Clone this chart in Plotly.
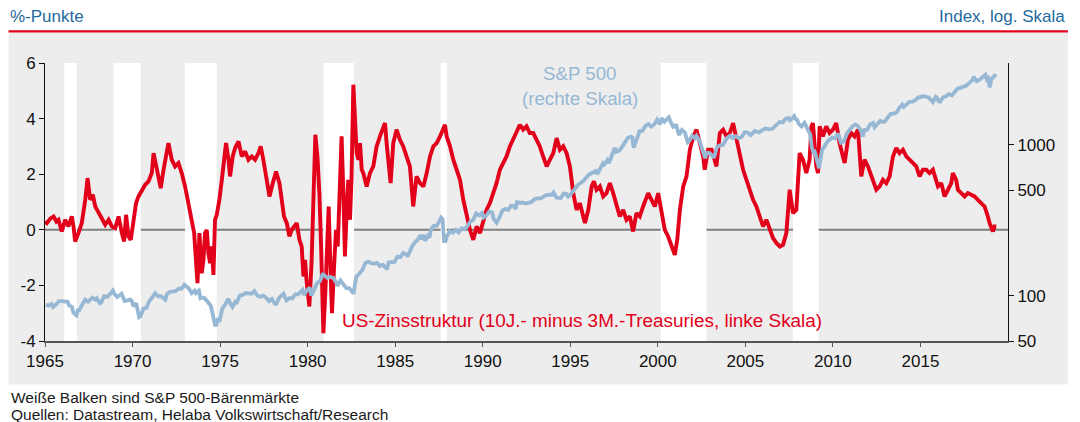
import plotly.graph_objects as go

# ---------------- data ----------------
# US yield curve: 10y minus 3m Treasuries (percentage points), left axis
spread_year = [
    1965.01, 1965.11, 1965.30, 1965.49, 1965.65, 1965.77, 1965.96, 1966.15, 1966.34, 1966.53,
    1966.63, 1966.72, 1966.91, 1967.10, 1967.30, 1967.43, 1967.58, 1967.73, 1967.87, 1968.06,
    1968.25, 1968.44, 1968.63, 1968.82, 1969.01, 1969.20, 1969.39, 1969.52, 1969.63, 1969.77,
    1969.90, 1970.05, 1970.20, 1970.34, 1970.53, 1970.72, 1970.91, 1971.10, 1971.20, 1971.35,
    1971.48, 1971.61, 1971.77, 1972.05, 1972.24, 1972.43, 1972.62, 1972.81, 1973.00, 1973.19,
    1973.38, 1973.52, 1973.63, 1973.71, 1973.82, 1973.95, 1974.05, 1974.14, 1974.24, 1974.33,
    1974.43, 1974.52, 1974.62, 1974.71, 1974.81, 1974.96, 1975.10, 1975.23, 1975.34, 1975.48,
    1975.57, 1975.72, 1975.86, 1976.05, 1976.24, 1976.43, 1976.62, 1976.81, 1977.00, 1977.19,
    1977.32, 1977.47, 1977.66, 1977.82, 1978.01, 1978.20, 1978.39, 1978.52, 1978.65, 1978.81,
    1978.96, 1979.09, 1979.28, 1979.38, 1979.53, 1979.66, 1979.76, 1979.85, 1979.95, 1980.10,
    1980.23, 1980.33, 1980.44, 1980.56, 1980.67, 1980.77, 1980.90, 1981.01, 1981.09, 1981.20,
    1981.32, 1981.39, 1981.51, 1981.62, 1981.72, 1981.94, 1982.04, 1982.13, 1982.23, 1982.32,
    1982.42, 1982.51, 1982.61, 1982.71, 1982.80, 1982.90, 1982.99, 1983.09, 1983.18, 1983.37,
    1983.56, 1983.75, 1983.94, 1984.13, 1984.32, 1984.42, 1984.51, 1984.61, 1984.74, 1984.89,
    1985.08, 1985.27, 1985.46, 1985.65, 1985.84, 1986.03, 1986.13, 1986.22, 1986.42, 1986.61,
    1986.80, 1986.99, 1987.18, 1987.37, 1987.56, 1987.84, 1987.94, 1988.13, 1988.32, 1988.51,
    1988.70, 1988.89, 1989.08, 1989.27, 1989.46, 1989.65, 1989.84, 1990.03, 1990.22, 1990.41,
    1990.60, 1990.79, 1990.98, 1991.17, 1991.36, 1991.55, 1991.74, 1991.93, 1992.12, 1992.31,
    1992.50, 1992.69, 1992.88, 1993.07, 1993.26, 1993.45, 1993.65, 1993.84, 1994.03, 1994.22,
    1994.41, 1994.60, 1994.79, 1994.98, 1995.07, 1995.17, 1995.36, 1995.55, 1995.74, 1995.84,
    1996.03, 1996.22, 1996.35, 1996.50, 1996.69, 1996.88, 1997.07, 1997.26, 1997.45, 1997.64,
    1997.83, 1998.02, 1998.21, 1998.40, 1998.59, 1998.78, 1998.97, 1999.16, 1999.35, 1999.45,
    1999.64, 1999.83, 2000.02, 2000.21, 2000.40, 2000.59, 2000.78, 2000.97, 2001.11, 2001.26,
    2001.45, 2001.64, 2001.83, 2002.02, 2002.21, 2002.40, 2002.59, 2002.68, 2002.87, 2003.07,
    2003.26, 2003.35, 2003.54, 2003.73, 2003.92, 2004.11, 2004.30, 2004.49, 2004.68, 2004.87,
    2005.06, 2005.25, 2005.44, 2005.63, 2005.82, 2006.01, 2006.20, 2006.39, 2006.58, 2006.78,
    2006.97, 2007.15, 2007.34, 2007.53, 2007.72, 2007.91, 2008.01, 2008.10, 2008.29, 2008.48,
    2008.67, 2008.77, 2008.86, 2009.05, 2009.15, 2009.24, 2009.43, 2009.62, 2009.81, 2010.00,
    2010.19, 2010.38, 2010.57, 2010.67, 2010.86, 2011.05, 2011.24, 2011.43, 2011.62, 2011.81,
    2012.00, 2012.19, 2012.48, 2012.67, 2012.86, 2013.05, 2013.24, 2013.43, 2013.62, 2013.81,
    2014.00, 2014.19, 2014.38, 2014.57, 2014.76, 2014.95, 2015.14, 2015.33, 2015.52, 2015.71,
    2015.90, 2016.00, 2016.19, 2016.38, 2016.57, 2016.76, 2016.85, 2017.04, 2017.14, 2017.33,
    2017.52, 2017.71, 2017.90, 2018.09, 2018.28, 2018.47, 2018.66, 2018.85, 2018.95, 2019.14,
    2019.23, 2019.33,
]
spread_value = [
    0.30, 0.24, 0.40, 0.48, 0.30, 0.36, -0.06, 0.36, 0.12, 0.48,
    0.12, -0.42, -0.12, 0.24, 1.08, 1.86, 1.08, 1.26, 0.84, 0.60,
    0.42, 0.18, 0.36, 0.12, 0.06, 0.48, -0.12, -0.42, 0.54, -0.24,
    -0.36, 0.36, 0.96, 1.20, 1.44, 1.62, 1.74, 2.04, 2.76, 2.28,
    1.80, 1.50, 2.16, 3.12, 2.52, 2.28, 2.40, 2.04, 1.56, 0.96,
    0.48, -0.12, -1.20, -1.92, -0.12, -1.56, -1.08, -0.12, 0.00, -0.84,
    -1.20, -0.60, -1.62, 0.36, 0.54, 1.08, 1.80, 2.64, 3.12, 2.52,
    1.92, 2.64, 2.94, 3.18, 2.64, 2.82, 2.52, 2.64, 2.52, 2.76,
    3.00, 2.52, 1.80, 1.20, 1.68, 2.10, 1.68, 1.08, 0.48, 0.24,
    -0.24, 0.00, 0.18, 0.24, -0.36, -0.60, -1.68, -1.08, -1.92, -2.76,
    -1.08, 1.32, 3.42, 2.64, 1.32, -0.60, -3.72, -2.28, -0.60, 0.84,
    -1.68, -3.00, -1.32, 0.00, -0.60, 3.36, 1.32, -0.96, 0.72, 1.80,
    0.36, 1.92, 5.22, 3.72, 2.76, 2.52, 3.12, 2.16, 2.04, 1.56,
    2.04, 2.28, 3.00, 3.36, 3.72, 3.84, 3.12, 2.52, 1.68, 3.12,
    3.60, 3.24, 3.00, 2.64, 2.28, 0.84, 1.32, 1.92, 1.68, 1.56,
    2.04, 2.64, 3.00, 3.12, 3.36, 3.78, 3.36, 3.00, 2.52, 2.16,
    1.80, 1.08, 0.48, 0.00, -0.36, 0.12, -0.12, 0.36, 0.72, 0.96,
    1.32, 1.68, 2.16, 2.40, 2.64, 3.00, 3.24, 3.50, 3.78, 3.60,
    3.72, 3.48, 3.48, 3.24, 3.00, 2.64, 2.28, 2.52, 2.76, 3.30,
    2.88, 3.00, 2.76, 2.28, 1.80, 1.32, 0.72, 0.96, 0.48, 0.24,
    0.72, 1.56, 1.74, 1.44, 1.56, 1.20, 1.32, 1.68, 1.32, 0.84,
    0.48, 0.72, 0.36, 0.48, -0.06, 0.60, 0.48, 0.84, 1.20, 1.32,
    1.08, 0.84, 1.32, 0.60, 0.00, -0.24, -0.60, -0.90, -0.36, 0.72,
    1.56, 1.92, 2.88, 3.36, 3.60, 3.12, 2.64, 2.16, 2.88, 2.88,
    2.52, 2.28, 3.48, 3.60, 3.36, 3.48, 3.84, 3.24, 2.64, 2.16,
    1.80, 1.44, 1.08, 0.84, 0.48, 0.12, 0.36, 0.00, -0.30, -0.48,
    -0.60, -0.54, -0.12, 1.44, 0.60, 0.72, 2.16, 2.76, 2.52, 2.04,
    2.52, 3.72, 3.84, 2.28, 2.04, 3.72, 3.36, 3.72, 3.48, 3.60,
    3.84, 3.12, 2.64, 2.40, 3.24, 3.48, 3.36, 3.60, 1.92, 2.52,
    2.28, 1.92, 1.44, 1.56, 1.80, 1.68, 1.92, 2.64, 2.94, 2.76,
    2.88, 2.64, 2.52, 2.40, 2.28, 1.92, 2.16, 2.16, 2.04, 2.16,
    1.80, 1.56, 1.68, 1.20, 1.44, 1.68, 2.04, 1.80, 1.44, 1.32,
    1.20, 1.32, 1.26, 1.20, 1.08, 0.96, 0.84, 0.48, 0.24, -0.06,
    0.12, 0.12,
]

# S&P 500 index level (right axis, log scale)
sp500_month = [
    "1965-01", "1965-03", "1965-05", "1965-06", "1965-08", "1965-10", "1965-12",
    "1966-02", "1966-04", "1966-05", "1966-07", "1966-08", "1966-10", "1966-11", "1966-12",
    "1967-02", "1967-04", "1967-06", "1967-09", "1967-11", "1967-12",
    "1968-02", "1968-03", "1968-05", "1968-07", "1968-09", "1968-11", "1968-12",
    "1969-02", "1969-05", "1969-07", "1969-09", "1969-11", "1969-12",
    "1970-01", "1970-03", "1970-05", "1970-06", "1970-08", "1970-10", "1970-12",
    "1971-02", "1971-04", "1971-06", "1971-08", "1971-11", "1971-12",
    "1972-02", "1972-04", "1972-06", "1972-08", "1972-10", "1972-12",
    "1973-01", "1973-03", "1973-05", "1973-07", "1973-08", "1973-10", "1973-11", "1973-12",
    "1974-02", "1974-04", "1974-06", "1974-07", "1974-08", "1974-09", "1974-10", "1974-11", "1974-12",
    "1975-02", "1975-04", "1975-06", "1975-08", "1975-09", "1975-11", "1975-12",
    "1976-02", "1976-04", "1976-06", "1976-08", "1976-10", "1976-12",
    "1977-02", "1977-04", "1977-06", "1977-08", "1977-10", "1977-12",
    "1978-02", "1978-03", "1978-05", "1978-08", "1978-10", "1978-12",
    "1979-02", "1979-04", "1979-06", "1979-09", "1979-10", "1979-12",
    "1980-02", "1980-03", "1980-05", "1980-07", "1980-09", "1980-11", "1980-12",
    "1981-02", "1981-04", "1981-06", "1981-08", "1981-09", "1981-11", "1981-12",
    "1982-02", "1982-03", "1982-05", "1982-07", "1982-08", "1982-09", "1982-10", "1982-12",
    "1983-02", "1983-04", "1983-06", "1983-08", "1983-10", "1983-12",
    "1984-02", "1984-04", "1984-06", "1984-07", "1984-08", "1984-10", "1984-12",
    "1985-02", "1985-04", "1985-06", "1985-08", "1985-09", "1985-11", "1985-12",
    "1986-02", "1986-04", "1986-06", "1986-07", "1986-08", "1986-09", "1986-11", "1986-12",
    "1987-01", "1987-03", "1987-05", "1987-07", "1987-08", "1987-09", "1987-10", "1987-11", "1987-12",
    "1988-02", "1988-04", "1988-06", "1988-08", "1988-10", "1988-12",
    "1989-02", "1989-04", "1989-06", "1989-08", "1989-10", "1989-12",
    "1990-01", "1990-03", "1990-05", "1990-07", "1990-08", "1990-10", "1990-12",
    "1991-02", "1991-04", "1991-06", "1991-08", "1991-10", "1991-11", "1991-12",
    "1992-02", "1992-04", "1992-06", "1992-08", "1992-10", "1992-12",
    "1993-02", "1993-04", "1993-06", "1993-08", "1993-10", "1993-12",
    "1994-01", "1994-03", "1994-06", "1994-08", "1994-10", "1994-11", "1994-12",
    "1995-02", "1995-04", "1995-06", "1995-08", "1995-10", "1995-12",
    "1996-02", "1996-04", "1996-06", "1996-07", "1996-09", "1996-11", "1996-12",
    "1997-02", "1997-03", "1997-05", "1997-07", "1997-08", "1997-10", "1997-12",
    "1998-02", "1998-04", "1998-06", "1998-07", "1998-08", "1998-10", "1998-12",
    "1999-02", "1999-04", "1999-06", "1999-08", "1999-10", "1999-12",
    "2000-02", "2000-03", "2000-05", "2000-08", "2000-09", "2000-11", "2000-12",
    "2001-01", "2001-03", "2001-05", "2001-07", "2001-09", "2001-10", "2001-12",
    "2002-02", "2002-03", "2002-05", "2002-07", "2002-09", "2002-10", "2002-12",
    "2003-02", "2003-03", "2003-05", "2003-07", "2003-09", "2003-12",
    "2004-02", "2004-04", "2004-06", "2004-08", "2004-10", "2004-12",
    "2005-02", "2005-04", "2005-07", "2005-10", "2005-12",
    "2006-02", "2006-05", "2006-07", "2006-09", "2006-12",
    "2007-02", "2007-04", "2007-06", "2007-07", "2007-08", "2007-10", "2007-11", "2007-12",
    "2008-01", "2008-03", "2008-05", "2008-07", "2008-09", "2008-10", "2008-11", "2008-12",
    "2009-01", "2009-02", "2009-03", "2009-05", "2009-07", "2009-09", "2009-12",
    "2010-02", "2010-04", "2010-06", "2010-08", "2010-10", "2010-12",
    "2011-02", "2011-04", "2011-06", "2011-08", "2011-09", "2011-10", "2011-12",
    "2012-02", "2012-04", "2012-05", "2012-07", "2012-09", "2012-11", "2012-12",
    "2013-02", "2013-04", "2013-06", "2013-08", "2013-10", "2013-12",
    "2014-01", "2014-03", "2014-05", "2014-07", "2014-09", "2014-11", "2014-12",
    "2015-02", "2015-04", "2015-06", "2015-08", "2015-09", "2015-11", "2015-12",
    "2016-01", "2016-02", "2016-04", "2016-06", "2016-08", "2016-10", "2016-12",
    "2017-02", "2017-04", "2017-06", "2017-08", "2017-10", "2017-12",
    "2018-01", "2018-02", "2018-03", "2018-05", "2018-07", "2018-09", "2018-10", "2018-11", "2018-12",
    "2019-01", "2019-02", "2019-03", "2019-04",
]
sp500_value = [
    87, 86, 88, 84, 87, 92, 92,
    91, 91, 86, 84, 77, 74, 80, 80,
    87, 94, 91, 97, 94, 96,
    89, 90, 99, 98, 102, 108, 103,
    98, 103, 92, 93, 94, 92,
    85, 89, 72, 73, 82, 83, 92,
    97, 104, 99, 99, 94, 102,
    106, 107, 107, 111, 111, 118,
    116, 112, 104, 108, 104, 108, 96, 97,
    96, 90, 86, 79, 72, 64, 64, 71, 67,
    82, 87, 95, 87, 84, 91, 90,
    100, 101, 104, 103, 103, 107,
    100, 98, 100, 97, 92, 95,
    88, 88, 97, 103, 93, 96,
    96, 102, 102, 109, 101, 108,
    113, 100, 111, 121, 125, 140, 136,
    131, 133, 131, 123, 116, 126, 122,
    113, 112, 112, 107, 103, 120, 134, 140,
    148, 164, 168, 164, 163, 165,
    157, 160, 153, 150, 166, 166, 167,
    181, 180, 192, 188, 182, 202, 211,
    226, 235, 251, 236, 253, 231, 249, 242,
    274, 291, 290, 318, 329, 321, 230, 230, 247,
    267, 261, 273, 262, 279, 277,
    288, 309, 317, 351, 340, 353,
    329, 339, 361, 356, 322, 304, 330,
    367, 375, 371, 395, 392, 375, 417,
    412, 414, 408, 414, 418, 436,
    443, 440, 451, 464, 467, 466,
    482, 446, 444, 475, 472, 454, 459,
    487, 514, 545, 562, 582, 616,
    641, 654, 671, 640, 687, 757, 741,
    791, 757, 848, 954, 899, 915, 970,
    1049, 1112, 1134, 1120, 957, 1099, 1229,
    1238, 1335, 1373, 1320, 1363, 1469,
    1366, 1499, 1421, 1518, 1437, 1315, 1320,
    1366, 1160, 1256, 1211, 1041, 1060, 1148,
    1107, 1147, 1067, 912, 815, 885, 880,
    841, 820, 964, 990, 996, 1112,
    1145, 1107, 1141, 1104, 1130, 1212,
    1204, 1157, 1234, 1207, 1248,
    1281, 1270, 1277, 1336, 1418,
    1407, 1482, 1503, 1455, 1474, 1549, 1481, 1468,
    1378, 1323, 1400, 1267, 1166, 968, 896, 903,
    826, 735, 700, 919, 987, 1057, 1115,
    1104, 1187, 1031, 1049, 1183, 1258,
    1327, 1364, 1321, 1219, 1131, 1253, 1258,
    1366, 1398, 1310, 1379, 1441, 1416, 1426,
    1515, 1598, 1606, 1633, 1757, 1848,
    1783, 1872, 1924, 1931, 1972, 2068, 2059,
    2105, 2086, 2063, 1972, 1920, 2080, 2044,
    1940, 1932, 2065, 2099, 2171, 2126, 2239,
    2364, 2384, 2423, 2472, 2575, 2674,
    2824, 2714, 2641, 2705, 2816, 2914, 2712, 2760, 2400,
    2704, 2784, 2834, 2946,
]

# S&P 500 bear markets (white bars), decimal years
bear_start = [1966.10, 1968.91, 1973.00, 1980.90, 1987.60, 2000.17, 2007.72]
bear_end = [1966.82, 1970.47, 1974.81, 1982.65, 1987.94, 2002.78, 2009.19]

x_ticks = [1965, 1970, 1975, 1980, 1985, 1990, 1995, 2000, 2005, 2010, 2015]
left_ticks = [-4, -2, 0, 2, 4, 6]
left_ticktext = ["-4", "-2", "0", "2", "4", "6"]
right_ticks = [50, 100, 500, 1000]

# ---------------- figure ----------------
OFF = 8  # the page body margin shifts the figure by this many pixels
W, H = 1072, 414
L, R, T, B = 36.8, 72.3, 55.3, 81
PW, PH = W - L - R, H - T - B


def px(xp):  # screen x -> paper x
    return (xp - OFF - L) / PW


def py(yp):  # screen y -> paper y
    return (H - B - (yp - OFF)) / PH


FONT = "Liberation Sans, Arial, sans-serif"
RED = "#E2001A"
BLUE = "#97B8D4"
HEAD = "#1F6A9E"
GRAY_BG = "#EDEDED"

sp_x = [int(m[:4]) + (int(m[5:]) - 0.5) / 12 for m in sp500_month]

fig = go.Figure()
fig.add_trace(go.Scatter(x=spread_year, y=spread_value, mode="lines",
                         line=dict(color=RED, width=3.9), yaxis="y",
                         hoverinfo="skip", showlegend=False))
fig.add_trace(go.Scatter(x=sp_x, y=sp500_value, mode="lines",
                         line=dict(color=BLUE, width=3.8), yaxis="y2",
                         hoverinfo="skip", showlegend=False))

shapes = []
# grey panel behind everything
shapes.append(dict(type="rect", xref="paper", yref="paper",
                   x0=px(8.3), x1=px(1067.6), y0=py(384.4), y1=py(33),
                   fillcolor=GRAY_BG, line=dict(width=0), layer="below"))
# red rule under the header
shapes.append(dict(type="line", xref="paper", yref="paper",
                   x0=px(8.3), x1=px(1067.6), y0=py(31.7), y1=py(31.7),
                   line=dict(color=RED, width=2.2)))
# zero line (under the white bars)
shapes.append(dict(type="line", xref="x", yref="y", x0=1965, x1=2020, y0=0, y1=0,
                   line=dict(color="#7F7F7F", width=2), layer="below"))
for s, e in zip(bear_start, bear_end):
    shapes.append(dict(type="rect", xref="x", yref="y", x0=s, x1=e, y0=-4, y1=6,
                       fillcolor="white", line=dict(width=0), layer="below"))

annotations = [
    dict(text="%-Punkte", xref="paper", yref="paper", x=px(8.3), y=py(17),
         xanchor="left", yanchor="middle", showarrow=False,
         font=dict(family=FONT, size=17, color=HEAD)),
    dict(text="Index, log. Skala", xref="paper", yref="paper", x=px(1066.5), y=py(17),
         xanchor="right", yanchor="middle", showarrow=False,
         font=dict(family=FONT, size=17, color=HEAD)),
    dict(text="S&amp;P 500", xref="paper", yref="paper", x=px(579.7), y=py(73.3),
         xanchor="center", yanchor="middle", showarrow=False,
         font=dict(family=FONT, size=18.7, color=BLUE)),
    dict(text="(rechte Skala)", xref="paper", yref="paper", x=px(579.5), y=py(98.3),
         xanchor="center", yanchor="middle", showarrow=False,
         font=dict(family=FONT, size=18.7, color=BLUE)),
    dict(text="US-Zinsstruktur (10J.- minus 3M.-Treasuries, linke Skala)",
         xref="paper", yref="paper", x=px(339.3), y=py(320.5),
         xanchor="left", yanchor="middle", showarrow=False,
         font=dict(family=FONT, size=18.9, color=RED)),
    dict(text="Weiße Balken sind S&amp;P 500-Bärenmärkte", xref="paper", yref="paper",
         x=px(8.6), y=py(397), xanchor="left", yanchor="middle", showarrow=False,
         font=dict(family=FONT, size=15.5, color="#1A1A1A")),
    dict(text="Quellen: Datastream, Helaba Volkswirtschaft/Research", xref="paper", yref="paper",
         x=px(8.6), y=py(414.4), xanchor="left", yanchor="middle", showarrow=False,
         font=dict(family=FONT, size=15.5, color="#1A1A1A")),
]

fig.update_layout(
    width=W, height=H,
    margin=dict(l=L, r=R, t=T, b=B, pad=0),
    paper_bgcolor="white",
    plot_bgcolor=GRAY_BG,
    font=dict(family=FONT, size=17, color="#111111"),
    showlegend=False,
    shapes=shapes,
    annotations=annotations,
    xaxis=dict(range=[1965, 2020], tickvals=x_ticks, ticktext=[str(v) for v in x_ticks],
               showgrid=False, zeroline=False, showline=True, linecolor="#555555",
               linewidth=2, ticks="outside", ticklen=4, tickcolor="#555555",
               tickfont=dict(family=FONT, size=17, color="#111111")),
    yaxis=dict(range=[-4, 6], tickvals=left_ticks, ticktext=left_ticktext,
               showgrid=False, zeroline=False, showline=True, linecolor="#111111",
               linewidth=1, ticks="outside", ticklen=5, tickcolor="#111111",
               tickfont=dict(family=FONT, size=17, color="#111111")),
    yaxis2=dict(type="log", range=[1.69897, 3.5423], overlaying="y", side="right",
                tickvals=right_ticks, ticktext=[str(v) for v in right_ticks],
                showgrid=False, zeroline=False, showline=True, linecolor="#111111",
                linewidth=1, ticks="outside", ticklen=5, tickcolor="#111111",
                tickfont=dict(family=FONT, size=17, color="#111111")),
)

fig.write_html("out.html")
